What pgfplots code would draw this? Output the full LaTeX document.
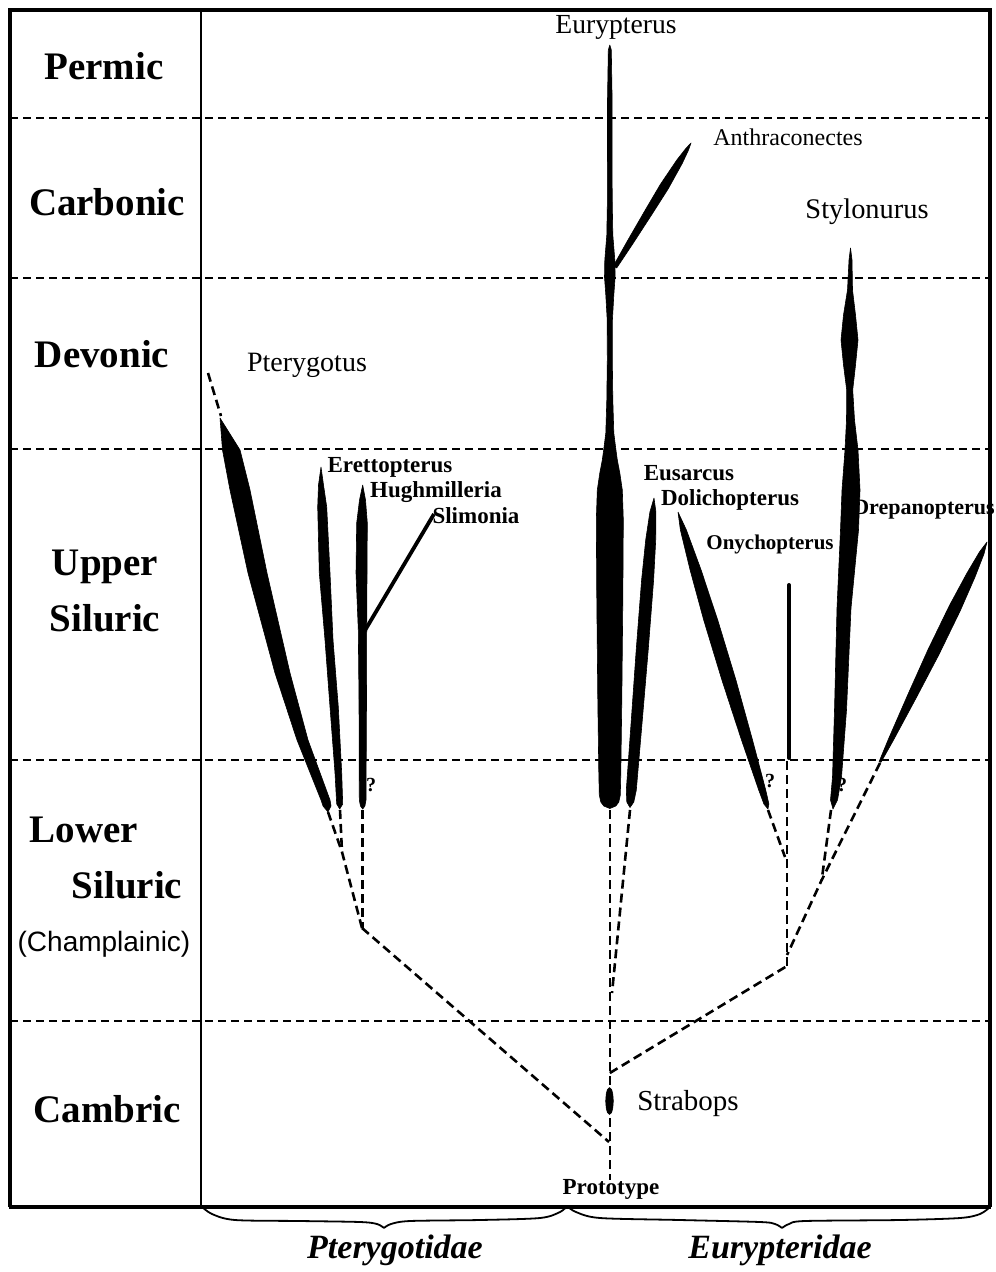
\documentclass[border=0pt]{standalone}
\usepackage{pgfplots}
\pgfplotsset{compat=1.18}
\usepackage{fontspec}
\setmainfont{Liberation Serif}
\newfontfamily\sansf{Liberation Sans}
\begin{document}
\begin{tikzpicture}
\begin{axis}[x=0.5pt, y=0.5pt, y dir=reverse, xmin=0, xmax=995, ymin=0, ymax=1272,
  hide axis, clip=false,
  spindle/.style={fill=black, draw=black, line width=0.3pt, line join=round},
  period/.style={black, line width=0.8pt, dash pattern=on 4pt off 2.5pt},
  phylo/.style={black, line width=1.3pt, dash pattern=on 4.5pt off 2.5pt}]
% bounding box
\addplot[draw=none] coordinates {(0,0) (995,1272)};
% frame
\addplot[black, line width=1.6pt] coordinates {(10,1207) (10,10) (990,10) (990,1207)};
\addplot[black, line width=2.2pt] coordinates {(9,1207) (991,1207)};
\addplot[black, line width=1.1pt] coordinates {(201,10) (201,1207)};
% period boundaries
\addplot[period] coordinates {(10,118) (990,118)};
\addplot[period] coordinates {(10,278) (990,278)};
\addplot[period] coordinates {(10,449) (990,449)};
\addplot[period] coordinates {(10,760) (990,760)};
\addplot[period] coordinates {(10,1021) (990,1021)};
% ---------- Pterygotidae ----------
\addplot[phylo] coordinates {(208,373) (221,416)};
% Pterygotus
\addplot[spindle] coordinates {(220,418) (222.5,450) (230,490) (248,573) (275,673) (297,740) (321,800) (323,806) (328,812) (331,806) (330,800) (308,740) (290,673) (267,573) (250,490) (240,450) (220,418)};
% Erettopterus
\addplot[spindle] coordinates {(321,467) (318.5,485) (317.7,507) (319.3,573) (325,640) (330,707) (335,773) (336.7,804) (339.7,809) (342.7,804) (341.7,773) (338.3,707) (333,640) (330,573) (326.7,507) (323.5,485) (321,467)};
% Hughmilleria
\addplot[spindle] coordinates {(362.7,485) (359.5,500) (356.7,523) (356,573) (358.3,630) (359,700) (359.3,800) (360.5,806) (362.7,809) (364.9,806) (366,800) (366.5,700) (366.7,630) (367,573) (367.3,523) (365.5,500) (362.7,485)};
% Slimonia
\addplot[black, line width=1.9pt] coordinates {(364,632) (434,514)};
% dashed links
\addplot[phylo] coordinates {(328,812) (342,852) (362,928)};
\addplot[phylo] coordinates {(340,810) (342,852)};
\addplot[phylo] coordinates {(362.7,810) (362.7,928)};
\addplot[phylo] coordinates {(362,928) (609,1142)};
% ---------- Eurypteridae ----------
% Eurypterus
\addplot[spindle] coordinates {(609.8,45) (608.3,50) (607.5,100) (607.4,200) (606.8,235) (604.8,260) (604.5,277) (605.8,295) (607.2,320) (607.3,360) (606.8,400) (605.8,433) (603.8,449) (602.3,460) (599.8,473) (597.3,490) (596.3,520) (596.8,600) (597.8,700) (598.8,773) (599.3,795) (600.8,802) (603.8,806) (609.8,808.5) (615.8,806) (618.8,802) (620.3,795) (620.8,773) (621.8,700) (622.8,600) (623.3,520) (622.3,490) (619.8,473) (617.3,460) (615.8,449) (613.8,433) (612.8,400) (612.3,360) (612.4,320) (613.8,295) (615.1,277) (614.8,260) (612.8,235) (612.2,200) (612.1,100) (611.3,50) (609.8,45)};
% Anthraconectes
\addplot[spindle] coordinates {(616.7,268) (632.8,243.8) (652.6,213.3) (668.2,188.8) (682.3,163.3) (688.5,150) (691,143) (685.9,148.4) (676.9,159.9) (660.6,184) (645.8,209.1) (627.6,240.6) (613.3,266) (616.7,268)};
% Eusarcus
\addplot[spindle] coordinates {(654,498) (649.9,512) (645.7,540) (641.6,580) (636.2,650) (631.3,720) (626.3,790) (626.8,802) (630,807.5) (633.8,802) (636.3,790) (642.3,720) (648.2,650) (653.6,580) (655.7,540) (655.9,512) (654,498)};
% Dolichopterus
\addplot[spindle] coordinates {(678,512) (680.4,530) (690.1,570) (703.7,620) (721.9,680) (741.5,740) (758.7,790) (763.9,804) (767.9,809) (768.9,804) (765.7,790) (752.5,740) (735.9,680) (717.7,620) (701.1,570) (686.4,530) (678,512)};
% Onychopterus
\addplot[black, line width=2pt, line cap=round] coordinates {(789,585) (789,758)};
% Stylonurus
\addplot[spindle] coordinates {(850.5,248) (849,260) (847.5,290) (843.5,315) (841,340) (843.5,365) (846.7,390) (846.5,420) (845,450) (842,490) (840.5,530) (837,608) (834.5,710) (832.5,777) (830.5,800) (833,809) (837.5,800) (841.5,777) (846.5,710) (851,608) (858.5,530) (860,490) (858,450) (854.5,420) (852.7,390) (855.5,365) (858,340) (855.5,315) (852.5,290) (852,260) (850.5,248)};
% Drepanopterus
\addplot[spindle] coordinates {(880.9,762.4) (892.9,741.1) (916.1,698) (938.9,654.6) (960.3,610.6) (975,577) (983.9,554.1) (987,542) (979.5,551.9) (967,573) (949.5,605.4) (928.1,649.4) (908.1,694) (888.5,738.9) (879.1,761.6) (880.9,762.4)};
% Strabops
\addplot[spindle] coordinates {(609.5,1087.5) (611.6,1089.5) (612.8,1094) (613.3,1101) (612.8,1108) (611.6,1112.5) (609.5,1114.5) (607.4,1112.5) (606.2,1108) (605.7,1101) (606.2,1094) (607.4,1089.5) (609.5,1087.5)};
% dashed links
\addplot[phylo] coordinates {(609.8,810) (609.8,1180)};
\addplot[phylo] coordinates {(630,810) (612,993)};
\addplot[phylo] coordinates {(609.8,1073) (787,966)};
\addplot[phylo] coordinates {(787,966) (787,760)};
\addplot[phylo] coordinates {(768,810) (785,857)};
\addplot[phylo] coordinates {(831,810) (821.7,880)};
\addplot[phylo] coordinates {(880,763) (821.7,880) (787,955)};
% braces
\addplot[black, line width=0.9pt, smooth] coordinates {(201,1206) (212,1214) (235,1220) (300,1221) (360,1222) (377,1224) (384,1228)};
\addplot[black, line width=0.9pt, smooth] coordinates {(384,1228) (391,1224) (410,1221) (480,1220) (540,1218) (560,1212) (567,1206)};
\addplot[black, line width=0.9pt, smooth] coordinates {(567,1206) (576,1212) (600,1218) (680,1220) (760,1222) (775,1224) (782,1228)};
\addplot[black, line width=0.9pt, smooth] coordinates {(782,1228) (789,1224) (805,1221) (900,1220) (960,1218) (980,1214) (990,1207)};
% ---------- period labels ----------
\begin{scope}[every node/.style={anchor=base, inner sep=0pt, font=\fontsize{19.5}{22}\selectfont\bfseries}]
\node at (axis cs:104,80) {Permic};
\node at (axis cs:107,216) {Carbonic};
\node at (axis cs:102,368) {Devonic};
\node at (axis cs:105,575) {Upper};
\node at (axis cs:105,631) {Siluric};
\node at (axis cs:84,842) {Lower};
\node at (axis cs:127,898) {Siluric};
\node at (axis cs:107,1122) {Cambric};
\end{scope}
\node[anchor=base, inner sep=0pt, font=\sansf\fontsize{14}{16}\selectfont] at (axis cs:104,951) {(Champlainic)};
% ---------- genus labels ----------
\begin{scope}[every node/.style={anchor=base, inner sep=0pt}]
\node[font=\fontsize{13.8}{15}\selectfont] at (axis cs:616,34) {Eurypterus};
\node[font=\fontsize{12}{14}\selectfont] at (axis cs:788,146) {Anthraconectes};
\node[font=\fontsize{14.2}{16}\selectfont] at (axis cs:867,219) {Stylonurus};
\node[font=\fontsize{14}{16}\selectfont] at (axis cs:307,372) {Pterygotus};
\node[font=\fontsize{14.5}{16}\selectfont] at (axis cs:688,1110) {Strabops};
\end{scope}
\begin{scope}[every node/.style={anchor=base, inner sep=0pt, font=\fontsize{11.5}{13}\selectfont\bfseries}]
\node at (axis cs:390,472) {Erettopterus};
\node at (axis cs:436,497) {Hughmilleria};
\node at (axis cs:476,523) {Slimonia};
\node at (axis cs:689,480) {Eusarcus};
\node at (axis cs:730,505) {Dolichopterus};
\node[font=\fontsize{10.5}{12}\selectfont\bfseries] at (axis cs:770,549) {Onychopterus};
\node[font=\fontsize{11}{12}\selectfont\bfseries] at (axis cs:924,514) {Drepanopterus};
\node at (axis cs:611,1194) {Prototype};
\end{scope}
\begin{scope}[every node/.style={anchor=base, inner sep=0pt, font=\fontsize{10}{12}\selectfont\bfseries}]
\node at (axis cs:371,791) {?};
\node at (axis cs:770,787) {?};
\node at (axis cs:842,791) {?};
\end{scope}
\begin{scope}[every node/.style={anchor=base, inner sep=0pt, font=\fontsize{17}{19}\selectfont\bfseries\itshape}]
\node at (axis cs:395,1258) {Pterygotidae};
\node at (axis cs:780,1258) {Eurypteridae};
\end{scope}
\end{axis}
\end{tikzpicture}
\end{document}
